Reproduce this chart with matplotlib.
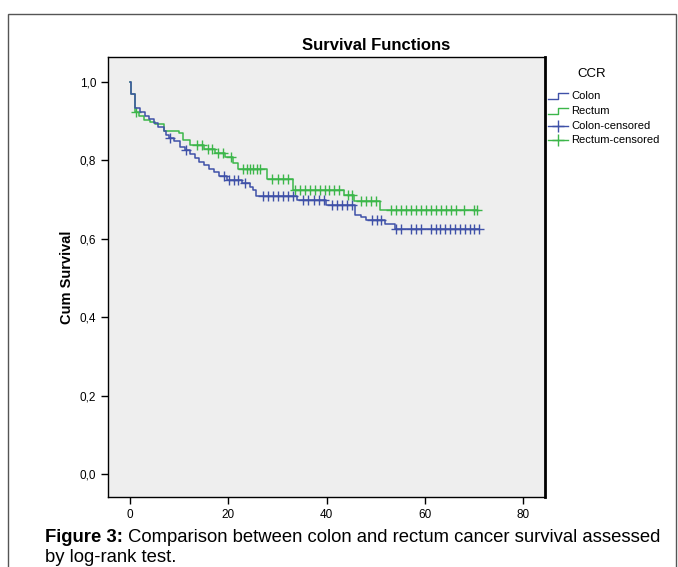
import numpy as np
import matplotlib.pyplot as plt
from matplotlib.lines import Line2D
from matplotlib.patches import Rectangle

plt.rcParams['font.family'] = ['Liberation Sans', 'DejaVu Sans']

# Kaplan-Meier steps: event times and survival after each event
colon_t = [0, 0.1, 1.0, 2.1, 3.0, 3.8, 4.8, 5.7, 6.9, 7.4, 7.9, 8.9, 10.2, 11.2, 12.3,
           13.2, 14.1, 15.1, 16.1, 17.1, 18.1, 19.7, 22.7, 24.4, 25.1, 25.7, 34.0,
           39.9, 45.8, 47.1, 48.1, 51.9, 53.9]
colon_s = [1.0, 0.969, 0.933, 0.924, 0.914, 0.905, 0.895, 0.886, 0.875, 0.866, 0.856,
           0.849, 0.835, 0.826, 0.816, 0.805, 0.797, 0.788, 0.779, 0.770, 0.761, 0.751,
           0.742, 0.732, 0.724, 0.710, 0.699, 0.686, 0.662, 0.655, 0.649, 0.638, 0.625]
colon_cens = [8.1, 11.4, 19.2, 20.2, 21.1, 22.0, 23.5, 27.1, 28.1, 29.1, 30.2, 31.2,
              32.2, 33.2, 35.3, 36.3, 37.4, 38.4, 39.4, 41.1, 42.1, 43.1, 44.1, 45.1,
              49.2, 50.2, 51.2, 54.1, 55.2, 57.2, 58.2, 59.2, 61.3, 62.2, 63.1, 64.1,
              65.1, 66.2, 67.2, 68.2, 69.2, 70.1, 71.1]

rectum_t = [0, 0.1, 1.0, 1.9, 2.9, 4.1, 5.0, 7.0, 10.0, 10.8, 12.1, 15.1, 17.3, 19.3,
            21.0, 21.9, 27.8, 33.1, 43.6, 45.5, 50.9]
rectum_s = [1.0, 0.969, 0.923, 0.914, 0.903, 0.897, 0.893, 0.876, 0.869, 0.852, 0.839,
            0.828, 0.819, 0.809, 0.793, 0.779, 0.752, 0.725, 0.712, 0.696, 0.673]
rectum_cens = [1.2, 13.6, 14.6, 15.9, 16.7, 18.0, 19.0, 20.5, 23.0, 23.8, 24.4, 25.1,
               25.9, 26.5, 29.0, 30.1, 31.1, 32.1, 33.6, 34.6, 35.6, 36.6, 37.6, 38.6,
               39.6, 40.6, 41.6, 42.6, 44.3, 45.2, 47.0, 48.0, 49.1, 50.1, 53.1, 54.1,
               55.2, 56.2, 57.2, 58.2, 59.2, 60.2, 61.3, 62.3, 63.3, 64.3, 65.3, 66.4,
               68.1, 70.1, 70.7]

blue = '#3f51a8'
green = '#3cb64a'

fig = plt.figure(figsize=(6.78, 5.67), dpi=100)
fig.patches.append(Rectangle((8 / 678, -0.01), 676 / 678 - 8 / 678, 1 - 14 / 567 + 0.01,
                             transform=fig.transFigure, fill=False,
                             edgecolor='#555555', lw=1.0))

ax = fig.add_axes([108 / 678, 1 - 497 / 567, 437 / 678, 440 / 567])
ax.set_facecolor('#eeeeee')


def km(ax, t, s, cens, color):
    t_end = max(t[-1], max(cens))
    tt = list(t) + [t_end]
    ss = list(s) + [s[-1]]
    ax.step(tt, ss, where='post', color=color, lw=1.1)
    idx = np.searchsorted(t, cens, side='right') - 1
    cs = np.array(s)[idx]
    ax.plot(cens, cs, ls='none', marker='+', ms=7, mew=1.0, color=color)


km(ax, rectum_t, rectum_s, rectum_cens, green)
km(ax, colon_t, colon_s, colon_cens, blue)

ax.set_xlim(-4.5, 84.5)
ax.set_ylim(-0.059, 1.064)
ax.set_xticks([0, 20, 40, 60, 80])
ax.set_yticks([0.0, 0.2, 0.4, 0.6, 0.8, 1.0])
ax.set_yticklabels(['0,0', '0,2', '0,4', '0,6', '0,8', '1,0'])
ax.tick_params(direction='out', length=5, width=1, labelsize=8.5, colors='black')
ax.tick_params(axis='x', pad=4)
for sp in ax.spines.values():
    sp.set_color('black')
    sp.set_linewidth(1.0)
ax.spines['right'].set_linewidth(2.0)
ax.set_ylabel('Cum Survival', fontsize=10.5, fontweight='bold', labelpad=4)

fig.text(376 / 678, 1 - 46 / 567, 'Survival Functions', ha='center', va='center',
         fontsize=12, fontweight='bold')

# legend panel
fig.text(592 / 678, 1 - 74 / 567, 'CCR', ha='center', va='center', fontsize=9.5)
labels = ['Colon', 'Rectum', 'Colon-censored', 'Rectum-censored']
ys = [96, 111, 126, 140]
for lab, yy, col, kind in zip(labels, ys, [blue, green, blue, green],
                              ['step', 'step', 'cens', 'cens']):
    yf = 1 - yy / 567
    if kind == 'step':
        xs = np.array([548, 558, 558, 568]) / 678
        yv = np.array([yy + 3, yy + 3, yy - 3, yy - 3])
        fig.add_artist(Line2D(xs, 1 - yv / 567, color=col, lw=1.0))
    else:
        fig.add_artist(Line2D([548 / 678, 568 / 678], [yf, yf], color=col, lw=1.0))
        fig.add_artist(Line2D([558 / 678], [yf], marker='+', ms=9, mew=1.0, color=col))
    fig.text(571 / 678, yf, lab, ha='left', va='center', fontsize=8)

cap_font = ['Liberation Sans Narrow', 'Liberation Sans', 'DejaVu Sans']
t1 = fig.text(45 / 678, 1 - 538 / 567, 'Figure 3:', ha='left', va='center',
              fontsize=13.3, fontweight='bold', family=cap_font)
fig.canvas.draw()
bb = t1.get_window_extent()
fig.text(bb.x1 / 678 + 5 / 678, 1 - 538 / 567,
         'Comparison between colon and rectum cancer survival assessed',
         ha='left', va='center', fontsize=13.3, family=cap_font)
fig.text(45 / 678, 1 - 558 / 567, 'by log-rank test.', ha='left', va='center',
         fontsize=13.3, family=cap_font)

fig.savefig('out.png', dpi=100)
